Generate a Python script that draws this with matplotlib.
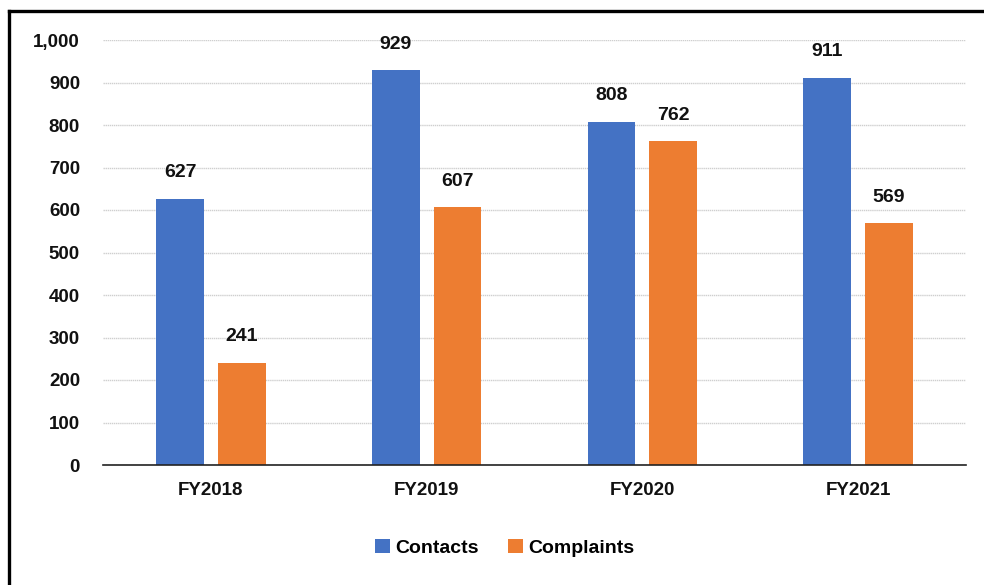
import matplotlib.pyplot as plt
import numpy as np
from matplotlib.lines import Line2D
from matplotlib.ticker import FuncFormatter

years = ["FY2018", "FY2019", "FY2020", "FY2021"]
contacts = [627, 929, 808, 911]
complaints = [241, 607, 762, 569]

blue = "#4472C4"
orange = "#ED7D31"

plt.rcParams['font.family'] = ['Liberation Sans', 'DejaVu Sans']
plt.rcParams['font.weight'] = 'bold'

fig = plt.figure(figsize=(9.84, 5.85), dpi=100)
ax = fig.add_axes([103 / 984, 1 - 465 / 585, 863 / 984, 425 / 585])

x = np.arange(len(years))
w = 0.222
off = 0.143
b1 = ax.bar(x - off, contacts, w, color=blue, label="Contacts", zorder=3)
b2 = ax.bar(x + off, complaints, w, color=orange, label="Complaints", zorder=3)

for bars, vals in ((b1, contacts), (b2, complaints)):
    for rect, v in zip(bars, vals):
        ax.annotate(f"{v:,}", (rect.get_x() + rect.get_width() / 2, v),
                    xytext=(0, 12.5), textcoords="offset points",
                    ha="center", va="bottom", fontsize=14, fontweight="bold",
                    color="#111111")

ax.set_xlim(-0.5, 3.5)
ax.set_ylim(0, 1000)
ax.set_yticks(range(0, 1001, 100))
ax.yaxis.set_major_formatter(FuncFormatter(lambda v, p: f"{int(v):,}"))
ax.set_xticks(x)
ax.set_xticklabels(years)
ax.tick_params(axis="both", length=0, labelsize=13.5, colors="#111111")
ax.tick_params(axis="y", pad=16.5)
ax.tick_params(axis="x", pad=12)
for lab in ax.get_xticklabels() + ax.get_yticklabels():
    lab.set_fontweight("bold")

ax.grid(axis="y", color="#cfcfcf", linewidth=1, linestyle=(0, (1, 0.5)), zorder=0)
for s in ("top", "right", "left"):
    ax.spines[s].set_visible(False)
ax.spines["bottom"].set_color("#222222")
ax.spines["bottom"].set_linewidth(1.2)
ax.spines["bottom"].set_zorder(4)

fig.legend(handles=[b1, b2], loc="center", bbox_to_anchor=(505 / 984, 1 - 548 / 585),
           ncol=2, frameon=False, handlelength=0.75, handleheight=0.75,
           handletextpad=0.3, columnspacing=1.5, prop={"weight": "bold", "size": 14})

# frame lines on top and left of the picture
fig.add_artist(Line2D([9 / 984, 1.0], [1 - 11 / 585, 1 - 11 / 585], color="black",
                      linewidth=2.4, transform=fig.transFigure))
fig.add_artist(Line2D([9 / 984, 9 / 984], [0, 1 - 11 / 585], color="black",
                      linewidth=2.4, transform=fig.transFigure))

fig.savefig("out.png", dpi=100)
